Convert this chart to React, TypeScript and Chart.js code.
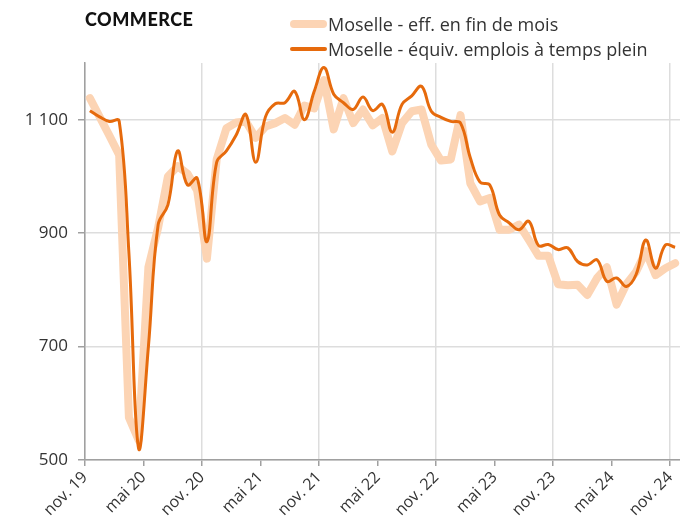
import React, { useEffect, useRef } from "react";
import { Chart, registerables } from "chart.js";

Chart.register(...registerables);

// Months from nov. 19 (index 0) to nov. 24 (index 60)
const tickLabels = [
  "nov. 19", "mai 20", "nov. 20", "mai 21", "nov. 21", "mai 22",
  "nov. 22", "mai 23", "nov. 23", "mai 24", "nov. 24",
];

const effFinDeMois = [
  1138, 1105, 1072, 1038, 575, 535, 840, 910, 1000, 1018,
  1005, 975, 855, 1030, 1085, 1095, 1097, 1068, 1088, 1094,
  1103, 1091, 1125, 1120, 1170, 1083, 1138, 1094, 1118, 1090,
  1103, 1044, 1094, 1115, 1118, 1056, 1028, 1030, 1108, 988,
  956, 962, 906, 906, 915, 888, 860, 860, 810, 808,
  809, 791, 821, 840, 774, 810, 832, 868, 826, 838,
  847,
];

const equivTempsPlein = [
  1116, 1105, 1097, 1098, 865, 520, 700, 915, 950, 1045,
  985, 997, 885, 1025, 1045, 1073, 1109, 1025, 1105, 1128,
  1130, 1150, 1100, 1150, 1192, 1145, 1130, 1118, 1140, 1116,
  1127, 1078, 1127, 1142, 1159, 1115, 1104, 1097, 1094, 1033,
  990, 985, 932, 918, 906, 921, 878, 880, 871, 874,
  850, 844, 853, 815, 821, 806, 827, 888, 838, 879,
  875,
];

const yTicks = [500, 700, 900, 1100];

const LIGHT = "#fcd4b4";
const DARK = "#e66a0c";
const FONT = "'Open Sans', 'Noto Sans', sans-serif";

const toPoints = (arr: number[]) => arr.map((v, i) => ({ x: i + 0.5, y: v }));

export default function App() {
  const ref = useRef<HTMLCanvasElement | null>(null);

  useEffect(() => {
    document.body.style.margin = "0";
    if (!ref.current) return;
    const chart = new Chart(ref.current, {
      type: "line",
      data: {
        datasets: [
          {
            label: "Moselle - équiv. emplois à temps plein",
            data: toPoints(equivTempsPlein),
            borderColor: DARK,
            borderWidth: 3,
            tension: 0.4,
            pointRadius: 0,
            order: 1,
          },
          {
            label: "Moselle - eff. en fin de mois",
            data: toPoints(effFinDeMois),
            borderColor: LIGHT,
            borderWidth: 8,
            tension: 0,
            pointRadius: 0,
            borderJoinStyle: "round",
            borderCapStyle: "round",
            order: 2,
          },
        ],
      },
      options: {
        animation: false,
        responsive: false,
        maintainAspectRatio: false,
        layout: { padding: { top: 63, left: 0, right: 0, bottom: 0 } },
        plugins: {
          legend: { display: false },
          tooltip: { enabled: false },
        },
        scales: {
          x: {
            type: "linear",
            min: 0,
            max: 61,
            afterBuildTicks: (scale: any) => {
              scale.ticks = tickLabels.map((_, k) => ({ value: k * 6 }));
            },
            afterFit: (scale: any) => {
              scale.height = 66;
              scale.paddingLeft = 0;
              scale.paddingRight = 0;
            },
            border: { color: "#a0a0a0", width: 1.5 },
            grid: {
              color: (ctx: any) =>
                ctx.tick && ctx.tick.value % 12 === 0 ? "#dddddd" : "rgba(0,0,0,0)",
              lineWidth: 1.5,
              tickColor: "#a0a0a0",
              tickLength: 6,
              drawTicks: true,
            },
            ticks: {
              autoSkip: false,
              maxRotation: 45,
              minRotation: 45,
              padding: 2,
              color: "#333333",
              font: { family: FONT, size: 16 },
              callback: (v: any) => tickLabels[Math.round(Number(v) / 6)] ?? "",
            },
          },
          y: {
            min: 500,
            max: 1200,
            afterBuildTicks: (scale: any) => {
              scale.ticks = yTicks.map((v) => ({ value: v }));
            },
            afterFit: (scale: any) => {
              scale.width = 85;
              scale.paddingTop = 0;
              scale.paddingBottom = 0;
            },
            border: { color: "#a0a0a0", width: 1.5 },
            grid: {
              color: "#dddddd",
              lineWidth: 1.5,
              tickColor: "#a0a0a0",
              tickLength: 7,
            },
            ticks: {
              padding: 10,
              color: "#333333",
              font: { family: FONT, size: 17 },
              callback: (v: any) =>
                Number(v) >= 1000
                  ? Math.floor(Number(v) / 1000) + " " + String(Number(v) % 1000).padStart(3, "0")
                  : String(v),
            },
          },
        },
      },
    } as any);
    return () => chart.destroy();
  }, []);

  const legendRow = (top: number, h: number, color: string, text: string) => (
    <div style={{ position: "absolute", left: 290, top, display: "flex", alignItems: "center", height: 22 }}>
      <div style={{ width: 37, height: h, borderRadius: h / 2, background: color, marginRight: 1 }} />
      <span style={{ fontFamily: FONT, fontSize: 18, color: "#333", whiteSpace: "nowrap" }}>{text}</span>
    </div>
  );

  return (
    <div style={{ position: "absolute", left: 0, top: 0, width: 680, height: 526, background: "#fff" }}>
      <canvas ref={ref} width={680} height={526} style={{ position: "absolute", left: 0, top: 0 }} />
      <div
        style={{
          position: "absolute",
          left: 85,
          top: 8,
          fontFamily: "Lato, 'Open Sans', sans-serif",
          fontWeight: 900,
          fontSize: 18,
          color: "#111",
          letterSpacing: 0.5,
        }}
      >
        COMMERCE
      </div>
      {legendRow(13, 8, LIGHT, "Moselle - eff. en fin de mois")}
      {legendRow(38, 4, DARK, "Moselle - équiv. emplois à temps plein")}
    </div>
  );
}
